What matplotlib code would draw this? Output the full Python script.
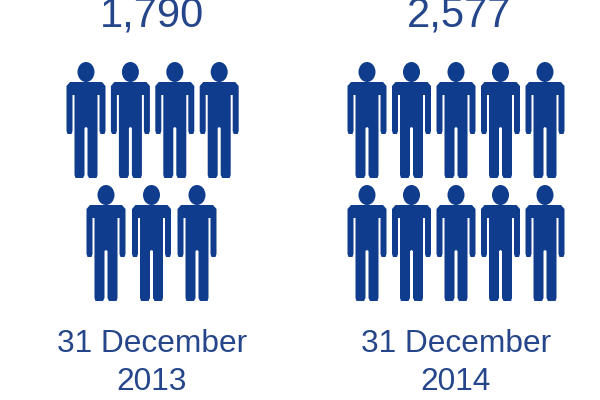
from matplotlib import pyplot as plt
from matplotlib.patches import Ellipse, Polygon

plt.rcParams['font.family'] = ['Liberation Sans', 'DejaVu Sans']

####
# Data
####
totals = ['1,790', '2,577']
dates = ['31 December\n2013', '31 December\n2014']
icons_per_row = [[4, 3], [5, 5]]

####
# Layout, in pixels of the 600x400 picture
####
label_x = [152, 459]
date_x = [152, 456]
row_start = [[86, 106], [367, 367]]
row_pitch = [[44.4, 45.5], [44.5, 44.5]]
row_top = [63, 186]

BLUE = '#0f3c8c'
TEXT_BLUE = '#25468a'

fig = plt.figure(figsize=(6, 4), dpi=100)
ax = fig.add_axes([0, 0, 1, 1])
ax.set_xlim(0, 600)
ax.set_ylim(400, 0)
ax.axis('off')

# half outline of a person, relative to top middle of the head
half_body = [(0, 19), (16, 19), (19.5, 23), (19.5, 68), (18.5, 71), (14.5, 71), (13.5, 68),
             (13.5, 32), (11.5, 32), (11.5, 112), (10.5, 115), (3, 115), (1.5, 112),
             (1.5, 65), (0, 64)]


def draw_person(cx, top):
    ax.add_patch(Ellipse((cx, top + 9), 17, 20, color=BLUE, lw=0))
    right = [(cx + x, top + y) for x, y in half_body]
    left = [(cx - x, top + y) for x, y in reversed(half_body)]
    ax.add_patch(Polygon(right + left, closed=True, color=BLUE, lw=0))


for g in range(len(totals)):
    ax.text(label_x[g], 27, totals[g], fontsize=30, color=TEXT_BLUE, ha='center', va='baseline')
    for r, n in enumerate(icons_per_row[g]):
        for i in range(n):
            draw_person(row_start[g][r] + i * row_pitch[g][r], row_top[r])
    ax.text(date_x[g], 352, dates[g].split('\n')[0], fontsize=22.8, color=TEXT_BLUE,
            ha='center', va='baseline')
    ax.text(date_x[g], 390, dates[g].split('\n')[1], fontsize=22.8, color=TEXT_BLUE,
            ha='center', va='baseline')

fig.savefig('out.png', dpi=100)
